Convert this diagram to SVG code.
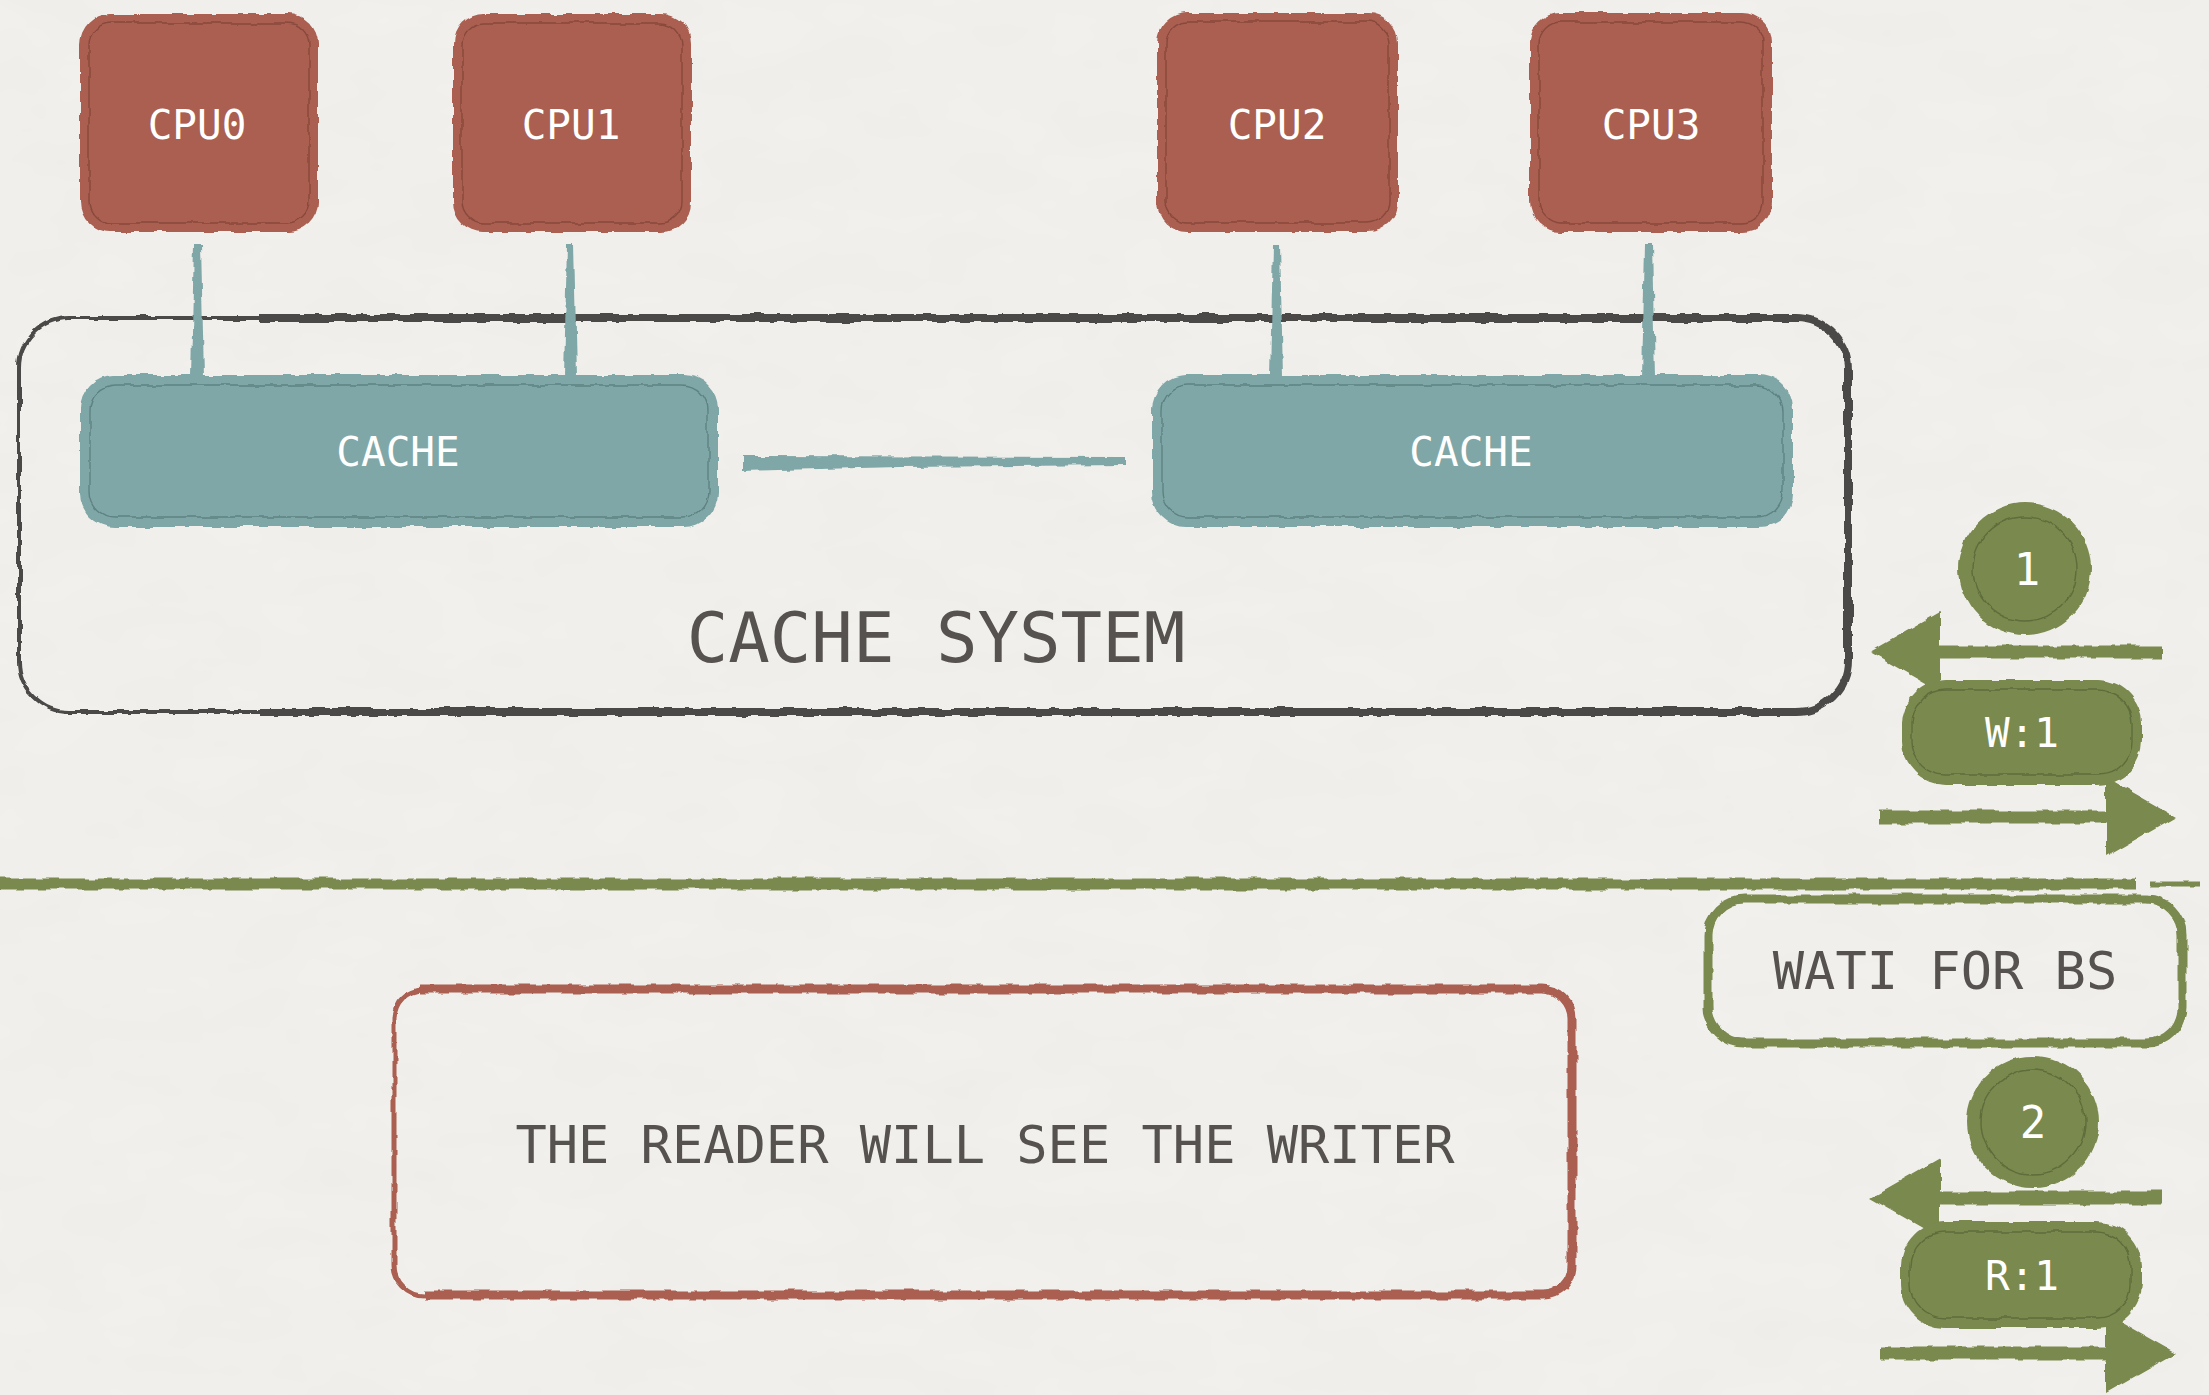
<svg xmlns="http://www.w3.org/2000/svg" width="2209" height="1395" viewBox="0 0 2209 1395">
  <style>
    .cpu { fill: #aa5f51; }
    .cpu-in { fill: none; stroke: #6e362c; stroke-width: 1.4; opacity: 0.55; }
    .cache { fill: #80a7a7; }
    .cache-in { fill: none; stroke: #3f6464; stroke-width: 1.4; opacity: 0.55; }
    .olive { fill: #7a894d; }
    .olive-in { fill: none; stroke: #44502a; stroke-width: 1.4; opacity: 0.5; }
    .frame { fill: none; stroke: #4c4947; }
    .arrow { fill: none; stroke: #7a894d; stroke-width: 13; }
    .lbl { font-family: "DejaVu Sans Mono", "Liberation Mono", monospace; text-anchor: middle; }
    .white { fill: #ffffff; }
    .ink { fill: #55524f; }
  </style>
  <defs>
    <!-- brush-edge roughness for painted shapes (canvas-wide region so flat lines are kept) -->
    <filter id="rough" filterUnits="userSpaceOnUse" x="0" y="0" width="2209" height="1395">
      <feTurbulence type="fractalNoise" baseFrequency="0.06" numOctaves="2" seed="3" result="n"/>
      <feDisplacementMap in="SourceGraphic" in2="n" scale="6" xChannelSelector="R" yChannelSelector="G"/>
    </filter>
    <!-- faint paper grain -->
    <filter id="paper" x="0" y="0" width="100%" height="100%">
      <feTurbulence type="fractalNoise" baseFrequency="0.01 0.02" numOctaves="3" seed="7"/>
      <feColorMatrix type="matrix" values="0 0 0 0 0.55  0 0 0 0 0.54  0 0 0 0 0.52  0 0 0 0.09 0"/>
    </filter>
    <marker id="head" markerUnits="userSpaceOnUse" viewBox="0 0 70 80" refX="0" refY="40" markerWidth="70" markerHeight="80" orient="auto">
      <path d="M0,0 L70,40 L0,80 Z" fill="#7a894d"/>
    </marker>
  </defs>

  <!-- paper -->
  <rect width="2209" height="1395" fill="#f2f1ed"/>
  <rect width="2209" height="1395" filter="url(#paper)"/>

  <!-- cache system container -->
  <g id="cache-system">
    <g filter="url(#rough)">
      <rect class="frame" x="19" y="318" width="1829" height="394" rx="50" stroke-width="4"/>
      <path class="frame" stroke-width="8" d="M260,318 H1796 A52,52 0 0 1 1848,370 V660 A52,52 0 0 1 1796,712 H260"/>
    </g>
    <text class="lbl ink" x="936" y="662" font-size="69">CACHE SYSTEM</text>
  </g>

  <!-- connectors -->
  <g id="connectors">
    <g filter="url(#rough)">
      <path class="cache" d="M194,244 L201,244 L204,377 L191,377 Z"/>
      <path class="cache" d="M567,244 L574,244 L577,377 L564,377 Z"/>
      <path class="cache" d="M1273,244 L1280,244 L1283,377 L1270,377 Z"/>
      <path class="cache" d="M1645,244 L1652,244 L1655,377 L1642,377 Z"/>
      <path class="cache" d="M742,456 L1126,457 L1126,465 L900,467 L742,471 Z"/>
    </g>
    <g filter="url(#rough)">
      <line class="arrow" x1="2162" y1="652" x2="1940" y2="652" marker-end="url(#head)"/>
      <line class="arrow" x1="1880" y1="817" x2="2106" y2="817" marker-end="url(#head)"/>
      <line class="arrow" x1="2162" y1="1198" x2="1940" y2="1198" marker-end="url(#head)"/>
      <line class="arrow" x1="1880" y1="1353" x2="2106" y2="1353" marker-end="url(#head)"/>
    </g>
  </g>

  <!-- CPUs -->
  <g id="cpu0">
    <g filter="url(#rough)">
      <rect class="cpu" x="80" y="14" width="238" height="218" rx="30"/>
      <rect class="cpu-in" x="89" y="23" width="220" height="200" rx="22"/>
    </g>
    <text class="lbl white" x="197" y="139" font-size="41">CPU0</text>
  </g>
  <g id="cpu1">
    <g filter="url(#rough)">
      <rect class="cpu" x="453" y="14" width="238" height="218" rx="30"/>
      <rect class="cpu-in" x="462" y="23" width="220" height="200" rx="22"/>
    </g>
    <text class="lbl white" x="571" y="139" font-size="41">CPU1</text>
  </g>
  <g id="cpu2">
    <g filter="url(#rough)">
      <rect class="cpu" x="1157" y="13" width="241" height="219" rx="30"/>
      <rect class="cpu-in" x="1166" y="22" width="223" height="201" rx="22"/>
    </g>
    <text class="lbl white" x="1277" y="139" font-size="41">CPU2</text>
  </g>
  <g id="cpu3">
    <g filter="url(#rough)">
      <rect class="cpu" x="1530" y="13" width="242" height="219" rx="30"/>
      <rect class="cpu-in" x="1539" y="22" width="224" height="201" rx="22"/>
    </g>
    <text class="lbl white" x="1651" y="139" font-size="41">CPU3</text>
  </g>

  <!-- caches -->
  <g id="cache-left">
    <g filter="url(#rough)">
      <rect class="cache" x="80" y="375" width="638" height="152" rx="34"/>
      <rect class="cache-in" x="90" y="385" width="618" height="132" rx="26"/>
    </g>
    <text class="lbl white" x="398" y="466" font-size="41">CACHE</text>
  </g>
  <g id="cache-right">
    <g filter="url(#rough)">
      <rect class="cache" x="1152" y="375" width="641" height="152" rx="34"/>
      <rect class="cache-in" x="1162" y="385" width="621" height="132" rx="26"/>
    </g>
    <text class="lbl white" x="1471" y="466" font-size="41">CACHE</text>
  </g>

  <!-- step 1: write -->
  <g id="step-1">
    <g filter="url(#rough)">
      <circle class="olive" cx="2025" cy="569" r="66"/>
      <circle class="olive-in" cx="2025" cy="569" r="52"/>
    </g>
    <text class="lbl white" x="2027" y="585" font-size="44">1</text>
  </g>
  <g id="write-w1">
    <g filter="url(#rough)">
      <rect class="olive" x="1902" y="680" width="240" height="105" rx="44"/>
      <rect class="olive-in" x="1912" y="690" width="220" height="85" rx="34"/>
    </g>
    <text class="lbl white" x="2022" y="747" font-size="41">W:1</text>
  </g>

  <!-- divider -->
  <g id="divider" filter="url(#rough)">
    <path d="M0,884 H2135" stroke="#7a894d" stroke-width="11" fill="none"/>
    <path d="M2150,884 H2200" stroke="#7a894d" stroke-width="5" fill="none"/>
  </g>

  <!-- wait for barrier -->
  <g id="wait-bs">
    <g filter="url(#rough)">
      <rect x="1708" y="899" width="474" height="144" rx="36" fill="none" stroke="#7a894d" stroke-width="9"/>
    </g>
    <text class="lbl ink" x="1945" y="989" font-size="52">WATI FOR BS</text>
  </g>

  <!-- step 2: read -->
  <g id="step-2">
    <g filter="url(#rough)">
      <circle class="olive" cx="2033" cy="1122" r="66"/>
      <circle class="olive-in" cx="2033" cy="1122" r="52"/>
    </g>
    <text class="lbl white" x="2033" y="1138" font-size="44">2</text>
  </g>
  <g id="read-r1">
    <g filter="url(#rough)">
      <rect class="olive" x="1901" y="1222" width="240" height="106" rx="44"/>
      <rect class="olive-in" x="1911" y="1232" width="220" height="86" rx="34"/>
    </g>
    <text class="lbl white" x="2022" y="1290" font-size="41">R:1</text>
  </g>

  <!-- outcome -->
  <g id="reader-note">
    <g filter="url(#rough)">
      <rect x="394" y="989" width="1178" height="306" rx="30" fill="none" stroke="#aa5f51" stroke-width="5"/>
      <path d="M420,989 H1542 A30,30 0 0 1 1572,1019 V1265 A30,30 0 0 1 1542,1295 H424" fill="none" stroke="#aa5f51" stroke-width="9"/>
    </g>
    <text class="lbl ink" x="985" y="1163" font-size="52">THE READER WILL SEE THE WRITER</text>
  </g>
</svg>
